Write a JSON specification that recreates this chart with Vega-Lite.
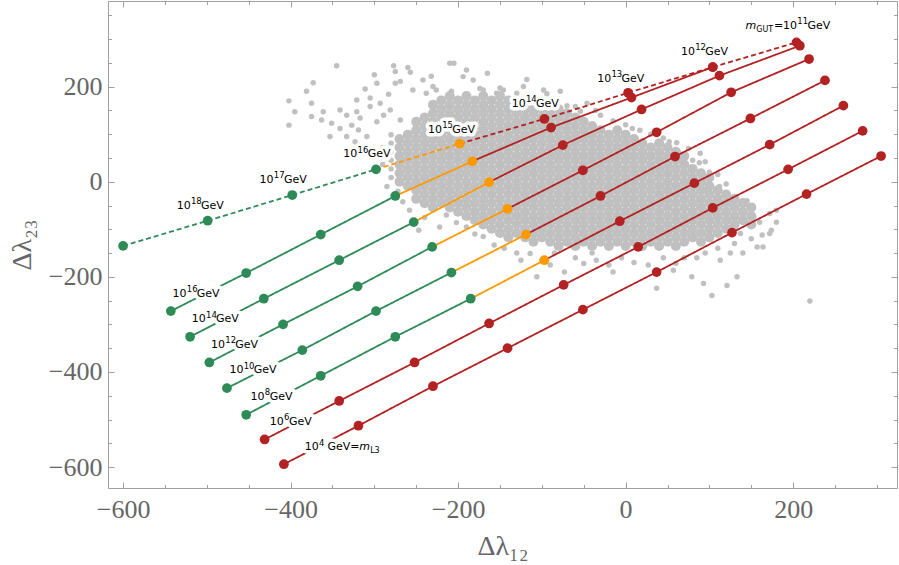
{
  "$schema": "https://vega.github.io/schema/vega-lite/v6.json",
  "width": 789,
  "height": 487,
  "autosize": {"type": "none"},
  "padding": {"left": 108, "top": 1, "right": 2, "bottom": 77},
  "config": {
    "view": {"stroke": "#a0a0a0", "strokeWidth": 1},
    "axis": {"grid": false, "domain": false, "tickColor": "#a0a0a0", "tickWidth": 1}
  },
  "datasets": {
    "halo": [
      {"x":-345,"y":244},{"x":-277,"y":244},{"x":-275,"y":232},{"x":-257,"y":230},{"x":-210,"y":249},{"x":-205,"y":249},
      {"x":-373,"y":208},{"x":-297,"y":207},{"x":-275,"y":207},{"x":-381,"y":190},{"x":-311,"y":195},{"x":-283,"y":184},
      {"x":-402,"y":170},{"x":-321,"y":172},{"x":-305,"y":176},{"x":-375,"y":165},{"x":-341,"y":151},{"x":-321,"y":147},
      {"x":-395,"y":147},{"x":-361,"y":147},{"x":-333,"y":140},{"x":-317,"y":134},{"x":-305,"y":158},{"x":-293,"y":165},
      {"x":-402,"y":119},{"x":-375,"y":137},{"x":-363,"y":130},{"x":-351,"y":123},{"x":-341,"y":112},{"x":-327,"y":119},
      {"x":-353,"y":95},{"x":-333,"y":95},{"x":-319,"y":109},{"x":-309,"y":95},{"x":-323,"y":84},{"x":-297,"y":126},
      {"x":-289,"y":140},{"x":-281,"y":151},{"x":-269,"y":130},
      {"x":-254,"y":193},{"x":-238,"y":186},{"x":-226,"y":193},{"x":-194,"y":221},{"x":-182,"y":214},{"x":-170,"y":193},
      {"x":-154,"y":186},{"x":-146,"y":193},{"x":-130,"y":186},{"x":-122,"y":176},{"x":-110,"y":179},{"x":-98,"y":193},
      {"x":-242,"y":214},{"x":-269,"y":211},{"x":-230,"y":200},{"x":-208,"y":190},{"x":-174,"y":196},{"x":-150,"y":197},
      {"x":-122,"y":200},{"x":-94,"y":185},{"x":-70,"y":160},{"x":-54,"y":148},{"x":-46,"y":165},{"x":-30,"y":140},
      {"x":-15,"y":128},{"x":0,"y":120},{"x":17,"y":108},{"x":30,"y":100},{"x":45,"y":92},{"x":61,"y":82},{"x":75,"y":70},
      {"x":89,"y":60},{"x":95,"y":42},{"x":110,"y":15},{"x":120,"y":-5},{"x":-85,"y":172},{"x":-60,"y":158},{"x":-190,"y":235},
      {"x":-165,"y":228},{"x":-300,"y":225},{"x":-260,"y":240},{"x":-232,"y":222},{"x":-118,"y":215},{"x":-78,"y":190},
      {"x":-36,"y":150},{"x":8,"y":112},{"x":52,"y":84},
      {"x":-290,"y":36},{"x":-290,"y":54},{"x":-290,"y":72},{"x":-280,"y":9},{"x":-280,"y":27},{"x":-280,"y":45},
      {"x":-280,"y":63},{"x":-280,"y":81},{"x":-280,"y":99},{"x":-285,"y":-10},{"x":-272,"y":-20},{"x":-266,"y":-42},
      {"x":-258,"y":-60},{"x":-247,"y":-102},{"x":-240,"y":-75},{"x":-222,"y":-95},{"x":-202,"y":-86},{"x":-214,"y":-70},
      {"x":-190,"y":-95},{"x":-180,"y":-110},{"x":-170,"y":-115},{"x":-157,"y":-133},{"x":-145,"y":-140},{"x":-130,"y":-150},
      {"x":-114,"y":-151},{"x":-106,"y":-200},{"x":-100,"y":-165},{"x":-90,"y":-175},{"x":-85,"y":-150},{"x":-73,"y":-190},
      {"x":-60,"y":-160},{"x":-50,"y":-172},{"x":-35,"y":-165},{"x":-20,"y":-175},{"x":-5,"y":-160},{"x":10,"y":-170},
      {"x":27,"y":-175},{"x":37,"y":-224},{"x":45,"y":-160},{"x":57,"y":-186},{"x":70,"y":-160},{"x":79,"y":-200},
      {"x":93,"y":-214},{"x":95,"y":-150},{"x":103,"y":-239},{"x":110,"y":-140},{"x":113,"y":-165},{"x":121,"y":-218},
      {"x":133,"y":-200},{"x":130,"y":-130},{"x":140,"y":-150},{"x":146,"y":-88},{"x":137,"y":-109},{"x":150,"y":-120},
      {"x":157,"y":-137},{"x":164,"y":-137},{"x":163,"y":-112},{"x":172,"y":-109},{"x":174,"y":-102},{"x":172,"y":-67},
      {"x":153,"y":-74},{"x":160,"y":-85},{"x":145,"y":-40},{"x":129,"y":-49},{"x":131,"y":-56},{"x":120,"y":-24},
      {"x":112,"y":-10},{"x":97,"y":-18},{"x":100,"y":20},{"x":88,"y":40},{"x":80,"y":45},{"x":65,"y":46},{"x":220,"y":-251},
      {"x":180,"y":-60},{"x":180,"y":-85},{"x":-15,"y":-190},{"x":-125,"y":-165},{"x":-40,"y":-150},{"x":60,"y":-172},
      {"x":85,"y":-160},{"x":125,"y":-150}
    ],
    "core": [
      {"x":-270,"y":0},{"x":-270,"y":18},{"x":-270,"y":36},{"x":-270,"y":54},{"x":-270,"y":72},{"x":-270,"y":90},
      {"x":-260,"y":-9},{"x":-260,"y":9},{"x":-260,"y":27},{"x":-260,"y":45},{"x":-260,"y":63},{"x":-260,"y":81},{"x":-260,"y":99},
      {"x":-250,"y":-36},{"x":-250,"y":-18},{"x":-250,"y":0},{"x":-250,"y":18},{"x":-250,"y":36},{"x":-250,"y":54},{"x":-250,"y":72},{"x":-250,"y":90},{"x":-250,"y":108},{"x":-250,"y":126},
      {"x":-240,"y":-45},{"x":-240,"y":-27},{"x":-240,"y":-9},{"x":-240,"y":9},{"x":-240,"y":27},{"x":-240,"y":45},{"x":-240,"y":63},{"x":-240,"y":81},{"x":-240,"y":99},{"x":-240,"y":117},{"x":-240,"y":135},
      {"x":-230,"y":-54},{"x":-230,"y":-36},{"x":-230,"y":-18},{"x":-230,"y":0},{"x":-230,"y":18},{"x":-230,"y":36},{"x":-230,"y":54},{"x":-230,"y":72},{"x":-230,"y":90},{"x":-230,"y":108},{"x":-230,"y":126},{"x":-230,"y":144},{"x":-230,"y":162},
      {"x":-220,"y":-45},{"x":-220,"y":-27},{"x":-220,"y":-9},{"x":-220,"y":9},{"x":-220,"y":27},{"x":-220,"y":45},{"x":-220,"y":63},{"x":-220,"y":81},{"x":-220,"y":99},{"x":-220,"y":117},{"x":-220,"y":135},{"x":-220,"y":153},{"x":-220,"y":171},
      {"x":-210,"y":-54},{"x":-210,"y":-36},{"x":-210,"y":-18},{"x":-210,"y":0},{"x":-210,"y":18},{"x":-210,"y":36},{"x":-210,"y":54},{"x":-210,"y":72},{"x":-210,"y":90},{"x":-210,"y":108},{"x":-210,"y":126},{"x":-210,"y":144},{"x":-210,"y":162},{"x":-210,"y":180},
      {"x":-200,"y":-63},{"x":-200,"y":-45},{"x":-200,"y":-27},{"x":-200,"y":-9},{"x":-200,"y":9},{"x":-200,"y":27},{"x":-200,"y":45},{"x":-200,"y":63},{"x":-200,"y":81},{"x":-200,"y":99},{"x":-200,"y":117},{"x":-200,"y":135},{"x":-200,"y":153},{"x":-200,"y":171},
      {"x":-190,"y":-72},{"x":-190,"y":-54},{"x":-190,"y":-36},{"x":-190,"y":-18},{"x":-190,"y":0},{"x":-190,"y":18},{"x":-190,"y":36},{"x":-190,"y":54},{"x":-190,"y":72},{"x":-190,"y":90},{"x":-190,"y":108},{"x":-190,"y":126},{"x":-190,"y":144},{"x":-190,"y":162},{"x":-190,"y":180},
      {"x":-180,"y":-81},{"x":-180,"y":-63},{"x":-180,"y":-45},{"x":-180,"y":-27},{"x":-180,"y":-9},{"x":-180,"y":9},{"x":-180,"y":27},{"x":-180,"y":45},{"x":-180,"y":63},{"x":-180,"y":81},{"x":-180,"y":99},{"x":-180,"y":117},{"x":-180,"y":135},{"x":-180,"y":153},{"x":-180,"y":171},
      {"x":-170,"y":-90},{"x":-170,"y":-72},{"x":-170,"y":-54},{"x":-170,"y":-36},{"x":-170,"y":-18},{"x":-170,"y":0},{"x":-170,"y":18},{"x":-170,"y":36},{"x":-170,"y":54},{"x":-170,"y":72},{"x":-170,"y":90},{"x":-170,"y":108},{"x":-170,"y":126},{"x":-170,"y":144},{"x":-170,"y":162},{"x":-170,"y":180},
      {"x":-160,"y":-99},{"x":-160,"y":-81},{"x":-160,"y":-63},{"x":-160,"y":-45},{"x":-160,"y":-27},{"x":-160,"y":-9},{"x":-160,"y":9},{"x":-160,"y":27},{"x":-160,"y":45},{"x":-160,"y":63},{"x":-160,"y":81},{"x":-160,"y":99},{"x":-160,"y":117},{"x":-160,"y":135},{"x":-160,"y":153},{"x":-160,"y":171},
      {"x":-150,"y":-108},{"x":-150,"y":-90},{"x":-150,"y":-72},{"x":-150,"y":-54},{"x":-150,"y":-36},{"x":-150,"y":-18},{"x":-150,"y":0},{"x":-150,"y":18},{"x":-150,"y":36},{"x":-150,"y":54},{"x":-150,"y":72},{"x":-150,"y":90},{"x":-150,"y":108},{"x":-150,"y":126},{"x":-150,"y":144},{"x":-150,"y":162},{"x":-150,"y":180},
      {"x":-140,"y":-117},{"x":-140,"y":-99},{"x":-140,"y":-81},{"x":-140,"y":-63},{"x":-140,"y":-45},{"x":-140,"y":-27},{"x":-140,"y":-9},{"x":-140,"y":9},{"x":-140,"y":27},{"x":-140,"y":45},{"x":-140,"y":63},{"x":-140,"y":81},{"x":-140,"y":99},{"x":-140,"y":117},{"x":-140,"y":135},{"x":-140,"y":153},{"x":-140,"y":171},
      {"x":-130,"y":-108},{"x":-130,"y":-90},{"x":-130,"y":-72},{"x":-130,"y":-54},{"x":-130,"y":-36},{"x":-130,"y":-18},{"x":-130,"y":0},{"x":-130,"y":18},{"x":-130,"y":36},{"x":-130,"y":54},{"x":-130,"y":72},{"x":-130,"y":90},{"x":-130,"y":108},{"x":-130,"y":126},{"x":-130,"y":144},{"x":-130,"y":162},
      {"x":-120,"y":-117},{"x":-120,"y":-99},{"x":-120,"y":-81},{"x":-120,"y":-63},{"x":-120,"y":-45},{"x":-120,"y":-27},{"x":-120,"y":-9},{"x":-120,"y":9},{"x":-120,"y":27},{"x":-120,"y":45},{"x":-120,"y":63},{"x":-120,"y":81},{"x":-120,"y":99},{"x":-120,"y":117},{"x":-120,"y":135},{"x":-120,"y":153},{"x":-120,"y":171},
      {"x":-110,"y":-126},{"x":-110,"y":-108},{"x":-110,"y":-90},{"x":-110,"y":-72},{"x":-110,"y":-54},{"x":-110,"y":-36},{"x":-110,"y":-18},{"x":-110,"y":0},{"x":-110,"y":18},{"x":-110,"y":36},{"x":-110,"y":54},{"x":-110,"y":72},{"x":-110,"y":90},{"x":-110,"y":108},{"x":-110,"y":126},{"x":-110,"y":144},{"x":-110,"y":162},
      {"x":-100,"y":-117},{"x":-100,"y":-99},{"x":-100,"y":-81},{"x":-100,"y":-63},{"x":-100,"y":-45},{"x":-100,"y":-27},{"x":-100,"y":-9},{"x":-100,"y":9},{"x":-100,"y":27},{"x":-100,"y":45},{"x":-100,"y":63},{"x":-100,"y":81},{"x":-100,"y":99},{"x":-100,"y":117},{"x":-100,"y":135},{"x":-100,"y":153},
      {"x":-90,"y":-126},{"x":-90,"y":-108},{"x":-90,"y":-90},{"x":-90,"y":-72},{"x":-90,"y":-54},{"x":-90,"y":-36},{"x":-90,"y":-18},{"x":-90,"y":0},{"x":-90,"y":18},{"x":-90,"y":36},{"x":-90,"y":54},{"x":-90,"y":72},{"x":-90,"y":90},{"x":-90,"y":108},{"x":-90,"y":126},{"x":-90,"y":144},{"x":-90,"y":162},
      {"x":-80,"y":-135},{"x":-80,"y":-117},{"x":-80,"y":-99},{"x":-80,"y":-81},{"x":-80,"y":-63},{"x":-80,"y":-45},{"x":-80,"y":-27},{"x":-80,"y":-9},{"x":-80,"y":9},{"x":-80,"y":27},{"x":-80,"y":45},{"x":-80,"y":63},{"x":-80,"y":81},{"x":-80,"y":99},{"x":-80,"y":117},{"x":-80,"y":135},{"x":-80,"y":153},
      {"x":-70,"y":-126},{"x":-70,"y":-108},{"x":-70,"y":-90},{"x":-70,"y":-72},{"x":-70,"y":-54},{"x":-70,"y":-36},{"x":-70,"y":-18},{"x":-70,"y":0},{"x":-70,"y":18},{"x":-70,"y":36},{"x":-70,"y":54},{"x":-70,"y":72},{"x":-70,"y":90},{"x":-70,"y":108},{"x":-70,"y":126},{"x":-70,"y":144},
      {"x":-60,"y":-135},{"x":-60,"y":-117},{"x":-60,"y":-99},{"x":-60,"y":-81},{"x":-60,"y":-63},{"x":-60,"y":-45},{"x":-60,"y":-27},{"x":-60,"y":-9},{"x":-60,"y":9},{"x":-60,"y":27},{"x":-60,"y":45},{"x":-60,"y":63},{"x":-60,"y":81},{"x":-60,"y":99},{"x":-60,"y":117},{"x":-60,"y":135},
      {"x":-50,"y":-126},{"x":-50,"y":-108},{"x":-50,"y":-90},{"x":-50,"y":-72},{"x":-50,"y":-54},{"x":-50,"y":-36},{"x":-50,"y":-18},{"x":-50,"y":0},{"x":-50,"y":18},{"x":-50,"y":36},{"x":-50,"y":54},{"x":-50,"y":72},{"x":-50,"y":90},{"x":-50,"y":108},{"x":-50,"y":126},
      {"x":-40,"y":-135},{"x":-40,"y":-117},{"x":-40,"y":-99},{"x":-40,"y":-81},{"x":-40,"y":-63},{"x":-40,"y":-45},{"x":-40,"y":-27},{"x":-40,"y":-9},{"x":-40,"y":9},{"x":-40,"y":27},{"x":-40,"y":45},{"x":-40,"y":63},{"x":-40,"y":81},{"x":-40,"y":99},{"x":-40,"y":117},
      {"x":-30,"y":-126},{"x":-30,"y":-108},{"x":-30,"y":-90},{"x":-30,"y":-72},{"x":-30,"y":-54},{"x":-30,"y":-36},{"x":-30,"y":-18},{"x":-30,"y":0},{"x":-30,"y":18},{"x":-30,"y":36},{"x":-30,"y":54},{"x":-30,"y":72},{"x":-30,"y":90},{"x":-30,"y":108},
      {"x":-20,"y":-135},{"x":-20,"y":-117},{"x":-20,"y":-99},{"x":-20,"y":-81},{"x":-20,"y":-63},{"x":-20,"y":-45},{"x":-20,"y":-27},{"x":-20,"y":-9},{"x":-20,"y":9},{"x":-20,"y":27},{"x":-20,"y":45},{"x":-20,"y":63},{"x":-20,"y":81},{"x":-20,"y":99},
      {"x":-10,"y":-126},{"x":-10,"y":-108},{"x":-10,"y":-90},{"x":-10,"y":-72},{"x":-10,"y":-54},{"x":-10,"y":-36},{"x":-10,"y":-18},{"x":-10,"y":0},{"x":-10,"y":18},{"x":-10,"y":36},{"x":-10,"y":54},{"x":-10,"y":72},{"x":-10,"y":90},{"x":-10,"y":108},
      {"x":0,"y":-135},{"x":0,"y":-117},{"x":0,"y":-99},{"x":0,"y":-81},{"x":0,"y":-63},{"x":0,"y":-45},{"x":0,"y":-27},{"x":0,"y":-9},{"x":0,"y":9},{"x":0,"y":27},{"x":0,"y":45},{"x":0,"y":63},{"x":0,"y":81},{"x":0,"y":99},
      {"x":10,"y":-126},{"x":10,"y":-108},{"x":10,"y":-90},{"x":10,"y":-72},{"x":10,"y":-54},{"x":10,"y":-36},{"x":10,"y":-18},{"x":10,"y":0},{"x":10,"y":18},{"x":10,"y":36},{"x":10,"y":54},{"x":10,"y":72},{"x":10,"y":90},
      {"x":20,"y":-135},{"x":20,"y":-117},{"x":20,"y":-99},{"x":20,"y":-81},{"x":20,"y":-63},{"x":20,"y":-45},{"x":20,"y":-27},{"x":20,"y":-9},{"x":20,"y":9},{"x":20,"y":27},{"x":20,"y":45},{"x":20,"y":63},{"x":20,"y":81},
      {"x":30,"y":-126},{"x":30,"y":-108},{"x":30,"y":-90},{"x":30,"y":-72},{"x":30,"y":-54},{"x":30,"y":-36},{"x":30,"y":-18},{"x":30,"y":0},{"x":30,"y":18},{"x":30,"y":36},{"x":30,"y":54},{"x":30,"y":72},
      {"x":40,"y":-135},{"x":40,"y":-117},{"x":40,"y":-99},{"x":40,"y":-81},{"x":40,"y":-63},{"x":40,"y":-45},{"x":40,"y":-27},{"x":40,"y":-9},{"x":40,"y":9},{"x":40,"y":27},{"x":40,"y":45},{"x":40,"y":63},{"x":40,"y":81},
      {"x":50,"y":-126},{"x":50,"y":-108},{"x":50,"y":-90},{"x":50,"y":-72},{"x":50,"y":-54},{"x":50,"y":-36},{"x":50,"y":-18},{"x":50,"y":0},{"x":50,"y":18},{"x":50,"y":36},{"x":50,"y":54},{"x":50,"y":72},
      {"x":60,"y":-135},{"x":60,"y":-117},{"x":60,"y":-99},{"x":60,"y":-81},{"x":60,"y":-63},{"x":60,"y":-45},{"x":60,"y":-27},{"x":60,"y":-9},{"x":60,"y":9},{"x":60,"y":27},{"x":60,"y":45},{"x":60,"y":63},
      {"x":70,"y":-126},{"x":70,"y":-108},{"x":70,"y":-90},{"x":70,"y":-72},{"x":70,"y":-54},{"x":70,"y":-36},{"x":70,"y":-18},{"x":70,"y":0},{"x":70,"y":18},{"x":70,"y":36},{"x":70,"y":54},
      {"x":80,"y":-117},{"x":80,"y":-99},{"x":80,"y":-81},{"x":80,"y":-63},{"x":80,"y":-45},{"x":80,"y":-27},{"x":80,"y":-9},{"x":80,"y":9},{"x":80,"y":27},
      {"x":90,"y":-126},{"x":90,"y":-108},{"x":90,"y":-90},{"x":90,"y":-72},{"x":90,"y":-54},{"x":90,"y":-36},{"x":90,"y":-18},{"x":90,"y":0},{"x":90,"y":18},
      {"x":100,"y":-117},{"x":100,"y":-99},{"x":100,"y":-81},{"x":100,"y":-63},{"x":100,"y":-45},{"x":100,"y":-27},{"x":100,"y":-9},{"x":100,"y":9},
      {"x":110,"y":-108},{"x":110,"y":-90},{"x":110,"y":-72},{"x":110,"y":-54},{"x":110,"y":-36},{"x":110,"y":-18},
      {"x":120,"y":-99},{"x":120,"y":-81},{"x":120,"y":-63},{"x":120,"y":-45},{"x":120,"y":-27},
      {"x":130,"y":-90},{"x":130,"y":-72},{"x":130,"y":-54},{"x":130,"y":-36},
      {"x":140,"y":-81},{"x":140,"y":-63},{"x":140,"y":-45},
      {"x":150,"y":-90},{"x":150,"y":-72},{"x":150,"y":-54}
    ],
    "pts": [
      {"line":"d","i":1,"x":-600,"y":-135,"c":"g"},{"line":"d","i":2,"x":-499,"y":-82,"c":"g"},{"line":"d","i":3,"x":-398,"y":-28,"c":"g"},
      {"line":"d","i":4,"x":-298,"y":26,"c":"g"},{"line":"d","i":5,"x":-198,"y":80,"c":"o"},{"line":"d","i":6,"x":-97,"y":132,"c":"r"},
      {"line":"d","i":7,"x":3,"y":187,"c":"r"},{"line":"d","i":8,"x":104,"y":241,"c":"r"},{"line":"d","i":9,"x":204,"y":293,"c":"r"},
      {"line":"A","i":1,"x":-543,"y":-272,"c":"g"},{"line":"A","i":2,"x":-453,"y":-192,"c":"g"},{"line":"A","i":3,"x":-364,"y":-111,"c":"g"},
      {"line":"A","i":4,"x":-275,"y":-30,"c":"g"},{"line":"A","i":5,"x":-183,"y":43,"c":"o"},{"line":"A","i":6,"x":-89,"y":114,"c":"r"},
      {"line":"A","i":7,"x":7,"y":177,"c":"r"},{"line":"A","i":8,"x":104,"y":241,"c":"r"},
      {"line":"B","i":1,"x":-520,"y":-326,"c":"g"},{"line":"B","i":2,"x":-432,"y":-246,"c":"g"},{"line":"B","i":3,"x":-342,"y":-165,"c":"g"},
      {"line":"B","i":4,"x":-253,"y":-85,"c":"g"},{"line":"B","i":5,"x":-163,"y":-1,"c":"o"},{"line":"B","i":6,"x":-75,"y":77,"c":"r"},
      {"line":"B","i":7,"x":19,"y":152,"c":"r"},{"line":"B","i":8,"x":112,"y":223,"c":"r"},{"line":"B","i":9,"x":208,"y":286,"c":"r"},
      {"line":"C","i":1,"x":-497,"y":-380,"c":"g"},{"line":"C","i":2,"x":-409,"y":-300,"c":"g"},{"line":"C","i":3,"x":-320,"y":-220,"c":"g"},
      {"line":"C","i":4,"x":-231,"y":-137,"c":"g"},{"line":"C","i":5,"x":-141,"y":-57,"c":"o"},{"line":"C","i":6,"x":-51,"y":24,"c":"r"},
      {"line":"C","i":7,"x":37,"y":104,"c":"r"},{"line":"C","i":8,"x":126,"y":188,"c":"r"},{"line":"C","i":9,"x":219,"y":258,"c":"r"},
      {"line":"D","i":1,"x":-476,"y":-434,"c":"g"},{"line":"D","i":2,"x":-386,"y":-354,"c":"g"},{"line":"D","i":3,"x":-298,"y":-272,"c":"g"},
      {"line":"D","i":4,"x":-208,"y":-191,"c":"g"},{"line":"D","i":5,"x":-119,"y":-111,"c":"o"},{"line":"D","i":6,"x":-30,"y":-30,"c":"r"},
      {"line":"D","i":7,"x":59,"y":53,"c":"r"},{"line":"D","i":8,"x":149,"y":133,"c":"r"},{"line":"D","i":9,"x":238,"y":213,"c":"r"},
      {"line":"E","i":1,"x":-453,"y":-490,"c":"g"},{"line":"E","i":2,"x":-364,"y":-408,"c":"g"},{"line":"E","i":3,"x":-275,"y":-326,"c":"g"},
      {"line":"E","i":4,"x":-185,"y":-246,"c":"g"},{"line":"E","i":5,"x":-97,"y":-165,"c":"o"},{"line":"E","i":6,"x":-7,"y":-83,"c":"r"},
      {"line":"E","i":7,"x":82,"y":-3,"c":"r"},{"line":"E","i":8,"x":172,"y":78,"c":"r"},{"line":"E","i":9,"x":260,"y":160,"c":"r"},
      {"line":"F","i":1,"x":-431,"y":-542,"c":"r"},{"line":"F","i":2,"x":-342,"y":-461,"c":"r"},{"line":"F","i":3,"x":-252,"y":-380,"c":"r"},
      {"line":"F","i":4,"x":-163,"y":-298,"c":"r"},{"line":"F","i":5,"x":-74,"y":-217,"c":"r"},{"line":"F","i":6,"x":15,"y":-137,"c":"r"},
      {"line":"F","i":7,"x":104,"y":-55,"c":"r"},{"line":"F","i":8,"x":194,"y":26,"c":"r"},{"line":"F","i":9,"x":283,"y":107,"c":"r"},
      {"line":"G","i":1,"x":-408,"y":-594,"c":"r"},{"line":"G","i":2,"x":-319,"y":-513,"c":"r"},{"line":"G","i":3,"x":-230,"y":-430,"c":"r"},
      {"line":"G","i":4,"x":-141,"y":-350,"c":"r"},{"line":"G","i":5,"x":-51,"y":-269,"c":"r"},{"line":"G","i":6,"x":37,"y":-190,"c":"r"},
      {"line":"G","i":7,"x":127,"y":-107,"c":"r"},{"line":"G","i":8,"x":216,"y":-26,"c":"r"},{"line":"G","i":9,"x":305,"y":54,"c":"r"}
    ],
    "labelsBase": [
      {"x":-536,"y":-57,"text":"10"},{"x":-507,"y":-57,"text":"GeV"},
      {"x":-437,"y":-3,"text":"10"},{"x":-408,"y":-3,"text":"GeV"},
      {"x":-337,"y":51,"text":"10"},{"x":-308,"y":51,"text":"GeV"},
      {"x":-236,"y":103,"text":"10"},{"x":-207,"y":103,"text":"GeV"},
      {"x":-136,"y":158,"text":"10"},{"x":-107,"y":158,"text":"GeV"},
      {"x":-34,"y":210,"text":"10"},{"x":-5,"y":210,"text":"GeV"},
      {"x":66,"y":267,"text":"10"},{"x":95,"y":267,"text":"GeV"},
      {"x":-541,"y":-242,"text":"10"},{"x":-512,"y":-242,"text":"GeV"},
      {"x":-518,"y":-296,"text":"10"},{"x":-489,"y":-296,"text":"GeV"},
      {"x":-495,"y":-350,"text":"10"},{"x":-466,"y":-350,"text":"GeV"},
      {"x":-473,"y":-403,"text":"10"},{"x":-444,"y":-403,"text":"GeV"},
      {"x":-448,"y":-458,"text":"10"},{"x":-425,"y":-458,"text":"GeV"},
      {"x":-425,"y":-512,"text":"10"},{"x":-402,"y":-512,"text":"GeV"},
      {"x":177,"y":321,"text":"=10"},{"x":217,"y":321,"text":"GeV"},
      {"x":-383,"y":-565,"text":"10"},{"x":-356,"y":-565,"text":"GeV="}
    ],
    "labelsSup": [
      {"x":-519,"y":-47,"text":"18"},{"x":-420,"y":7,"text":"17"},{"x":-320,"y":61,"text":"16"},
      {"x":-219,"y":113,"text":"15"},{"x":-119,"y":168,"text":"14"},{"x":-17,"y":220,"text":"13"},
      {"x":83,"y":277,"text":"12"},{"x":-524,"y":-232,"text":"16"},{"x":-501,"y":-286,"text":"14"},
      {"x":-478,"y":-340,"text":"12"},{"x":-456,"y":-393,"text":"10"},{"x":-431,"y":-448,"text":"8"},
      {"x":-408,"y":-502,"text":"6"},{"x":205,"y":331,"text":"11"},{"x":-366,"y":-555,"text":"4"}
    ],
    "labelsItalic": [
      {"x":143,"y":321,"text":"m"},{"x":-318,"y":-565,"text":"m"}
    ],
    "labelsSub": [
      {"x":156,"y":314,"text":"GUT"},{"x":-305,"y":-571,"text":"L3"}
    ]
  },
  "layer": [
    {
      "mark": {"type": "rule", "color": "#cccccc", "strokeWidth": 1},
      "encoding": {"x": {"datum": 0, "type": "quantitative", "axis": null}}
    },
    {
      "mark": {"type": "rule", "color": "#cccccc", "strokeWidth": 1},
      "encoding": {"y": {"datum": 0, "type": "quantitative", "axis": null}}
    },
    {
      "data": {"name": "halo"},
      "mark": {"type": "circle", "size": 30, "color": "#c0c0c0", "opacity": 1},
      "encoding": {
        "x": {"field": "x", "type": "quantitative", "axis": null},
        "y": {"field": "y", "type": "quantitative", "axis": null}
      }
    },
    {
      "data": {"name": "core"},
      "mark": {"type": "circle", "size": 100, "color": "#c0c0c0", "opacity": 1},
      "encoding": {
        "x": {
          "field": "x", "type": "quantitative",
          "scale": {"domain": [-618, 324], "nice": false, "zero": false},
          "axis": {
            "orient": "bottom",
            "values": [-600,-550,-500,-450,-400,-350,-300,-250,-200,-150,-100,-50,0,50,100,150,200,250,300],
            "format": "d",
            "labelExpr": "datum.value % 200 === 0 ? datum.label : ''",
            "tickSize": {"condition": {"test": "datum.value % 200 === 0", "value": -6}, "value": -3.5},
            "labelFont": "Liberation Serif", "labelFontSize": 26, "labelColor": "#666666",
            "labelPadding": 14, "labelFlush": false, "labelOverlap": false,
            "title": "Δλ₁₂", "titleFont": "Liberation Serif", "titleFontSize": 28,
            "titleFontWeight": "normal", "titleColor": "#666666", "titlePadding": 8
          }
        },
        "y": {
          "field": "y", "type": "quantitative",
          "scale": {"domain": [-644, 380], "nice": false, "zero": false},
          "axis": {
            "orient": "left",
            "values": [-600,-550,-500,-450,-400,-350,-300,-250,-200,-150,-100,-50,0,50,100,150,200,250,300,350],
            "format": "d",
            "labelExpr": "datum.value % 200 === 0 ? datum.label : ''",
            "tickSize": {"condition": {"test": "datum.value % 200 === 0", "value": -6}, "value": -3.5},
            "labelFont": "Liberation Serif", "labelFontSize": 26, "labelColor": "#666666",
            "labelPadding": 12, "labelFlush": false, "labelOverlap": false,
            "title": "Δλ₂₃", "titleFont": "Liberation Serif", "titleFontSize": 28,
            "titleFontWeight": "normal", "titleColor": "#666666", "titlePadding": 12
          }
        }
      }
    },
    {
      "data": {"name": "pts"},
      "transform": [
        {
          "window": [
            {"op": "lead", "field": "x", "as": "x2"},
            {"op": "lead", "field": "y", "as": "y2"},
            {"op": "lead", "field": "c", "as": "c2"}
          ],
          "groupby": ["line"],
          "sort": [{"field": "i", "order": "ascending"}]
        },
        {"filter": "datum.x2 != null"}
      ],
      "mark": {"type": "rule", "strokeWidth": 1.8},
      "encoding": {
        "x": {
          "field": "x", "type": "quantitative",
          "axis": {
            "orient": "top",
            "values": [-600,-550,-500,-450,-400,-350,-300,-250,-200,-150,-100,-50,0,50,100,150,200,250,300],
            "labels": false, "title": null,
            "tickSize": {"condition": {"test": "datum.value % 200 === 0", "value": -6}, "value": -3.5}
          }
        },
        "y": {
          "field": "y", "type": "quantitative",
          "axis": {
            "orient": "right",
            "values": [-600,-550,-500,-450,-400,-350,-300,-250,-200,-150,-100,-50,0,50,100,150,200,250,300,350],
            "labels": false, "title": null,
            "tickSize": {"condition": {"test": "datum.value % 200 === 0", "value": -6}, "value": -3.5}
          }
        },
        "x2": {"field": "x2"},
        "y2": {"field": "y2"},
        "color": {
          "field": "c2", "type": "nominal",
          "scale": {"domain": ["g", "o", "r"], "range": ["#2e8b57", "#ff9900", "#b22222"]},
          "legend": null
        },
        "strokeDash": {"condition": {"test": "datum.line === 'd'", "value": [5, 3]}, "value": [1, 0]}
      }
    },
    {
      "data": {"name": "pts"},
      "mark": {"type": "circle", "size": 95, "opacity": 1},
      "encoding": {
        "x": {"field": "x", "type": "quantitative", "axis": null},
        "y": {"field": "y", "type": "quantitative", "axis": null},
        "color": {"field": "c", "type": "nominal", "legend": null}
      }
    },
    {
      "data": {"name": "labelsBase"},
      "mark": {"type": "text", "font": "DejaVu Sans", "fontSize": 11, "align": "left", "baseline": "alphabetic", "color": "white", "stroke": "white", "strokeWidth": 7, "strokeJoin": "round"},
      "encoding": {
        "x": {"field": "x", "type": "quantitative", "axis": null},
        "y": {"field": "y", "type": "quantitative", "axis": null},
        "text": {"field": "text"}
      }
    },
    {
      "data": {"name": "labelsSup"},
      "mark": {"type": "text", "font": "DejaVu Sans", "fontSize": 8.5, "align": "left", "baseline": "alphabetic", "color": "white", "stroke": "white", "strokeWidth": 7, "strokeJoin": "round"},
      "encoding": {
        "x": {"field": "x", "type": "quantitative", "axis": null},
        "y": {"field": "y", "type": "quantitative", "axis": null},
        "text": {"field": "text"}
      }
    },
    {
      "data": {"name": "labelsBase"},
      "mark": {"type": "text", "font": "DejaVu Sans", "fontSize": 11, "align": "left", "baseline": "alphabetic", "color": "black"},
      "encoding": {
        "x": {"field": "x", "type": "quantitative", "axis": null},
        "y": {"field": "y", "type": "quantitative", "axis": null},
        "text": {"field": "text"}
      }
    },
    {
      "data": {"name": "labelsSup"},
      "mark": {"type": "text", "font": "DejaVu Sans", "fontSize": 8.5, "align": "left", "baseline": "alphabetic", "color": "black"},
      "encoding": {
        "x": {"field": "x", "type": "quantitative", "axis": null},
        "y": {"field": "y", "type": "quantitative", "axis": null},
        "text": {"field": "text"}
      }
    },
    {
      "data": {"name": "labelsItalic"},
      "mark": {"type": "text", "font": "DejaVu Sans", "fontSize": 11, "fontStyle": "italic", "align": "left", "baseline": "alphabetic", "color": "black"},
      "encoding": {
        "x": {"field": "x", "type": "quantitative", "axis": null},
        "y": {"field": "y", "type": "quantitative", "axis": null},
        "text": {"field": "text"}
      }
    },
    {
      "data": {"name": "labelsSub"},
      "mark": {"type": "text", "font": "DejaVu Sans", "fontSize": 8, "align": "left", "baseline": "alphabetic", "color": "black"},
      "encoding": {
        "x": {"field": "x", "type": "quantitative", "axis": null},
        "y": {"field": "y", "type": "quantitative", "axis": null},
        "text": {"field": "text"}
      }
    }
  ],
  "resolve": {"axis": {"x": "independent", "y": "independent"}}
}
